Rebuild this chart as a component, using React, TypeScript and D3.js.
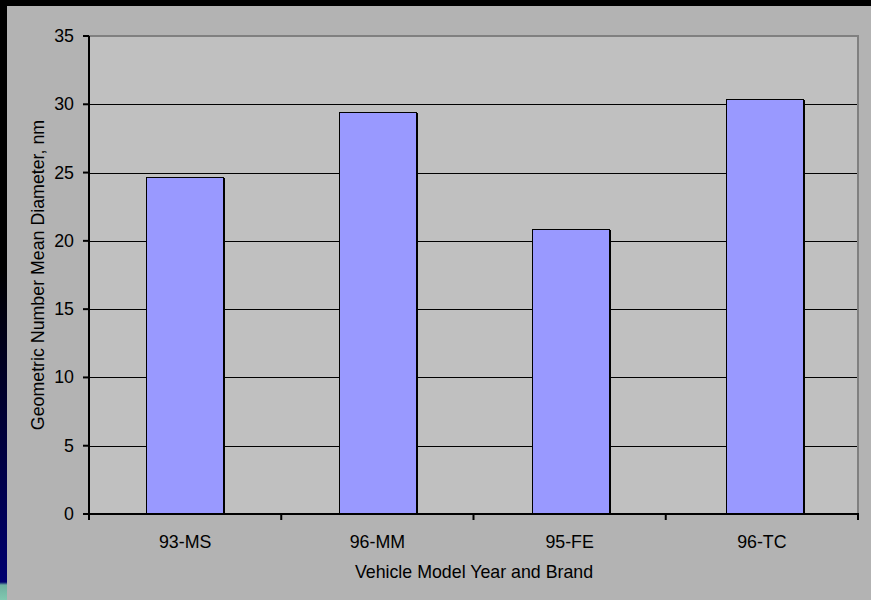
import React from "react";
import * as d3 from "d3";

const categories = ["93-MS", "96-MM", "95-FE", "96-TC"];
const values = [24.7, 29.4, 20.9, 30.4];
const yTicks = [0, 5, 10, 15, 20, 25, 30, 35];

const W = 871;
const H = 600;
const plot = { left: 89, right: 858, top: 36, bottom: 514 };
const FONT = "'Liberation Sans', Arial, sans-serif";
const FS = 17.8;

export default function App() {
  const x = d3
    .scaleBand<string>()
    .domain(categories)
    .range([plot.left, plot.right + 3])
    .paddingInner(0.6)
    .paddingOuter(0.298);
  const xb = d3
    .scaleBand<string>()
    .domain(categories)
    .range([plot.left, plot.right]);
  const y = d3.scaleLinear().domain([0, 35]).range([plot.bottom, plot.top]);

  const boundaries = [...categories.map((c) => xb(c) as number), plot.right];

  return (
    <svg
      width={W}
      height={H}
      style={{ position: "absolute", left: 0, top: 0, display: "block" }}
      fontFamily={FONT}
    >
      <defs>
        <linearGradient id="slide" x1="0" y1="0" x2="0" y2="1">
          <stop offset="0" stopColor="#000000" />
          <stop offset="0.45" stopColor="#000000" />
          <stop offset="0.75" stopColor="#000040" />
          <stop offset="0.97" stopColor="#000070" />
          <stop offset="0.975" stopColor="#6fb0a0" />
          <stop offset="1" stopColor="#80c8b0" />
        </linearGradient>
      </defs>
      <rect x={0} y={0} width={W} height={H} fill="#000" />
      <rect x={0} y={0} width={7} height={H} fill="url(#slide)" />
      <rect x={7} y={6} width={W - 7} height={H - 6} fill="#b3b3b3" />
      <rect
        x={plot.left}
        y={plot.top}
        width={plot.right - plot.left}
        height={plot.bottom - plot.top}
        fill="#c0c0c0"
      />
      {/* plot border top/right */}
      <line x1={plot.left} x2={plot.right + 1} y1={plot.top} y2={plot.top} stroke="#808080" strokeWidth={2} />
      <line x1={plot.right} x2={plot.right} y1={plot.top} y2={plot.bottom} stroke="#808080" strokeWidth={2} />
      {/* gridlines */}
      {yTicks.slice(1, -1).map((t) => (
        <line
          key={t}
          x1={plot.left}
          x2={plot.right - 1}
          y1={Math.round(y(t)) + 0.5}
          y2={Math.round(y(t)) + 0.5}
          stroke="#000"
          strokeWidth={1}
        />
      ))}
      {/* bars */}
      {categories.map((c, i) => {
        const bx = Math.floor(x(c) as number);
        const bw = Math.round(x.bandwidth());
        const by = Math.round(y(values[i]));
        return (
          <g key={c}>
            <rect
              x={bx + 0.5}
              y={by + 0.5}
              width={bw}
              height={plot.bottom - by}
              fill="#9999ff"
              stroke="#000"
              strokeWidth={1}
            />
            <line x1={bx + bw + 1.5} x2={bx + bw + 1.5} y1={by + 1} y2={plot.bottom} stroke="#000" strokeWidth={1} />
          </g>
        );
      })}
      {/* y axis */}
      <line x1={plot.left} x2={plot.left} y1={plot.top} y2={plot.bottom + 6} stroke="#000" strokeWidth={2} />
      {yTicks.map((t) => (
        <g key={t}>
          <line x1={plot.left - 6} x2={plot.left} y1={y(t)} y2={y(t)} stroke="#000" strokeWidth={2} />
          <text
            x={74}
            y={y(t)}
            textAnchor="end"
            dominantBaseline="central"
            fontSize={FS}
            fill="#000"
          >
            {t}
          </text>
        </g>
      ))}
      {/* x axis */}
      <line x1={plot.left - 1} x2={plot.right + 1} y1={plot.bottom} y2={plot.bottom} stroke="#000" strokeWidth={2} />
      {boundaries.map((b, i) => (
        <line key={i} x1={b} x2={b} y1={plot.bottom} y2={plot.bottom + 6} stroke="#000" strokeWidth={2} />
      ))}
      {categories.map((c) => (
        <text
          key={c}
          x={(xb(c) as number) + xb.bandwidth() / 2}
          y={541.5}
          textAnchor="middle"
          dominantBaseline="central"
          fontSize={FS}
          fill="#000"
        >
          {c}
        </text>
      ))}
      <text x={474} y={571.5} textAnchor="middle" dominantBaseline="central" fontSize={FS} fill="#000">
        Vehicle Model Year and Brand
      </text>
      <text
        transform={`translate(38,275) rotate(-90)`}
        textAnchor="middle"
        dominantBaseline="central"
        fontSize={FS}
        fill="#000"
      >
        Geometric Number Mean Diameter, nm
      </text>
    </svg>
  );
}
